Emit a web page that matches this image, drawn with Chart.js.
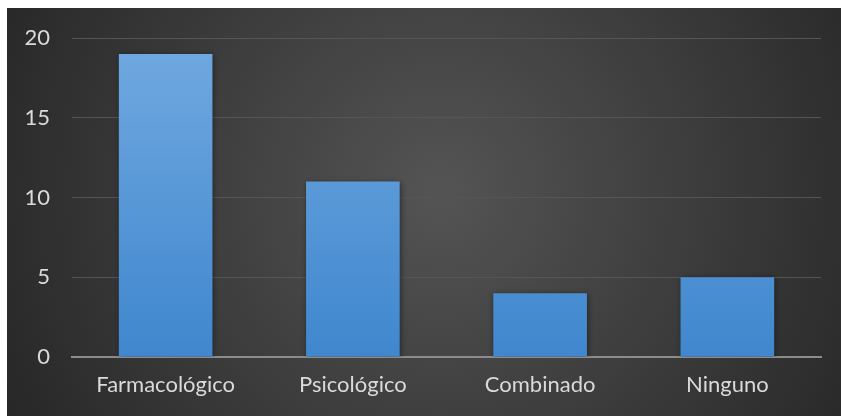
<!DOCTYPE html>
<html>
<head>
<meta charset="utf-8">
<script src="https://cdn.jsdelivr.net/npm/chart.js@4"></script>
<style>
    html, body { margin: 0; padding: 0; background: #ffffff; }
    #wrap { position: absolute; left: 7px; top: 8px; width: 834px; height: 408px; }
</style>
</head>
<body>
<div id="wrap"><canvas id="chart"></canvas></div>
<script>
const categories = ['Farmacológico', 'Psicológico', 'Combinado', 'Ninguno'];
const values = [19, 11, 4, 5];
const yTicks = [0, 5, 10, 15, 20];

const FONT = 'Lato, "Noto Sans", sans-serif';

// fondo oscuro con degradado radial
const bgPlugin = {
    id: 'bg',
    beforeDraw(chart) {
        const ctx = chart.ctx;
        const w = chart.width, h = chart.height;
        const g = ctx.createRadialGradient(w * 0.52, h * 0.45, 10, w * 0.52, h * 0.45, w * 0.6);
        g.addColorStop(0, '#535353');
        g.addColorStop(1, '#262626');
        ctx.save();
        ctx.fillStyle = g;
        ctx.fillRect(0, 0, w, h);
        ctx.restore();
    }
};

// sombra suave en las barras
const shadowPlugin = {
    id: 'barShadow',
    beforeDatasetsDraw(chart) {
        const ctx = chart.ctx;
        ctx.save();
        ctx.shadowColor = 'rgba(0,0,0,0.45)';
        ctx.shadowBlur = 6;
        ctx.shadowOffsetX = 1;
        ctx.shadowOffsetY = 1;
    },
    afterDatasetsDraw(chart) {
        chart.ctx.restore();
    }
};

function barGradient(context) {
    const area = context.chart.chartArea;
    if (!area) return '#5b9bd5';
    const g = context.chart.ctx.createLinearGradient(0, area.top, 0, area.bottom);
    g.addColorStop(0, '#71a9e0');
    g.addColorStop(1, '#3f87ce');
    return g;
}

new Chart(document.getElementById('chart'), {
    type: 'bar',
    data: {
        labels: categories,
        datasets: [{
            data: values,
            backgroundColor: barGradient,
            borderWidth: 0,
            barPercentage: 0.5,
            categoryPercentage: 1
        }]
    },
    options: {
        responsive: true,
        maintainAspectRatio: false,
        animation: false,
        layout: { padding: { top: 30, right: 20, left: 0, bottom: 0 } },
        plugins: {
            legend: { display: false },
            tooltip: { enabled: false }
        },
        scales: {
            x: {
                grid: { display: false, drawTicks: false },
                border: { display: true, color: '#8c8c8c', width: 2 },
                ticks: { color: '#dadada', font: { family: FONT, size: 22 }, padding: 15, maxRotation: 0 },
                afterFit(s) { s.height = 59; s.paddingLeft = 0; s.paddingRight = 0; }
            },
            y: {
                min: 0,
                max: 20,
                afterBuildTicks(s) { s.ticks = yTicks.map(v => ({ value: v })); },
                grid: { color: '#555555', lineWidth: 1, drawTicks: false },
                border: { display: false },
                ticks: { color: '#dadada', font: { family: FONT, size: 22 }, padding: 22 },
                afterFit(s) { s.width = 65; s.paddingTop = 0; s.paddingBottom = 0; }
            }
        }
    },
    plugins: [bgPlugin, shadowPlugin]
});
</script>
</body>
</html>
